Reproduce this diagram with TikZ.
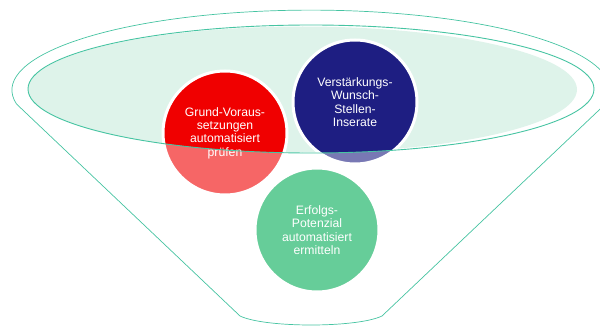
\documentclass[tikz,border=0pt]{standalone}
\usepackage{fontspec}
\setmainfont{Liberation Sans}
\definecolor{funnelteal}{RGB}{70,196,162}
\definecolor{mintfill}{RGB}{222,243,234}
\definecolor{redbubble}{RGB}{240,0,0}
\definecolor{bluebubble}{RGB}{30,30,130}
\definecolor{greenbubble}{RGB}{0,172,85}
\begin{document}
\begin{tikzpicture}[x=1pt,y=-1pt,
  rimline/.style={draw=funnelteal,line width=0.9pt},
  bodyline/.style={draw=funnelteal,line width=0.7pt},
  bubble/.style={circle,draw=white,line width=3pt,minimum size=124pt,inner sep=0pt,
    text=white,align=center,font=\fontsize{12.2}{13.4}\selectfont},
]
\useasboundingbox (0,0) rectangle (600,329);

% funnel mouth, mint surface
\fill[mintfill] (302.5,89.5) ellipse[x radius=274.5pt, y radius=63pt];

% the three bubbles
\node[bubble,fill=redbubble]   (grund)   at (225,133) {Grund-Voraus-\\setzungen\\automatisiert\\prüfen};
\node[bubble,fill=bluebubble]  (staerke) at (355,102) {Verstärkungs-\\Wunsch-\\Stellen-\\Inserate};
\node[bubble,fill=greenbubble] (erfolg)  at (317,230) {Erfolgs-\\Potenzial\\automatisiert\\ermitteln};

% translucent funnel body, open at the mouth
\fill[white,opacity=0.4,even odd rule]
  (16.5,104) arc[start angle=190,end angle=-10,x radius=299pt,y radius=80pt]
  -- (382,316) .. controls (357,328) and (265,328) .. (240,316) -- cycle
  (311,89) ellipse[x radius=283pt, y radius=64pt];

% funnel outline and mouth rim
\draw[bodyline]
  (16.5,104) arc[start angle=190,end angle=-10,x radius=299pt,y radius=80pt]
  -- (382,316) .. controls (357,328) and (265,328) .. (240,316) -- cycle;
\draw[rimline] (311,89) ellipse[x radius=283pt, y radius=64pt];
\end{tikzpicture}
\end{document}
